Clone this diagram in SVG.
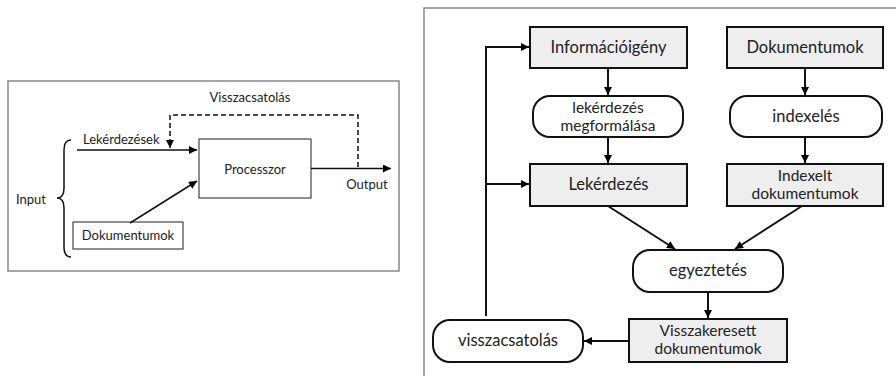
<svg xmlns="http://www.w3.org/2000/svg" width="896" height="376" viewBox="0 0 896 376">
<defs>
<marker id="ah" viewBox="0 0 10 10" refX="10" refY="5" markerWidth="10" markerHeight="8" markerUnits="userSpaceOnUse" orient="auto"><path d="M0,0 L10,5 L0,10 z" fill="#000"/></marker>
<marker id="ah2" viewBox="0 0 10 10" refX="10" refY="5" markerWidth="12" markerHeight="8" markerUnits="userSpaceOnUse" orient="auto"><path d="M0,0 L10,5 L0,10 z" fill="#000"/></marker>
<style>
text{font-family:Lato,"Open Sans","Liberation Sans",sans-serif;fill:#222;text-anchor:middle}
.s{font-size:13px}
.m{font-size:16.5px}
.t{font-size:15.5px}
.frame{fill:#fff;stroke:#888;stroke-width:1.5}
.lb{fill:#fff;stroke:#444;stroke-width:1.2}
.bx{fill:#eeeeee;stroke:#111;stroke-width:2}
.rd{fill:#fff;stroke:#111;stroke-width:2}
.ln{fill:none;stroke:#111;stroke-width:1.5}
.rl{fill:none;stroke:#111;stroke-width:2}
</style>
</defs>
<rect width="896" height="376" fill="#fff"/>
<g id="left-panel">
<rect class="frame" x="8" y="81" width="391" height="190"/>
<g id="processzor"><rect class="lb" x="199" y="139" width="112" height="59"/><text class="s" x="255" y="174">Processzor</text></g>
<g id="dokumentumok-l"><rect class="lb" x="73" y="222" width="110" height="27"/><text class="s" x="128" y="240">Dokumentumok</text></g>
<g id="labels-l">
<text class="s" x="250" y="102">Visszacsatolás</text>
<text class="s" x="83" y="144" style="text-anchor:start">Lekérdezések</text>
<text class="s" x="367" y="189">Output</text>
<text class="s" x="16" y="204" style="text-anchor:start">Input</text>
</g>
<g id="connectors-l">
<path class="ln" d="M77,150 H197" marker-end="url(#ah)"/>
<path class="ln" d="M130,223 L197,181" marker-end="url(#ah)"/>
<path class="ln" d="M311,168.5 H391" marker-end="url(#ah)"/>
<path class="ln" d="M358,167 V115 H170 V148" stroke-dasharray="5,3" marker-end="url(#ah)"/>
<path class="ln" d="M71,140 Q64,140 64,150 V188 Q64,198 57,198 Q64,198 64,208 V247 Q64,257 71,257"/>
</g>
</g>
<g id="right-panel">
<rect class="frame" x="424" y="8" width="480" height="380"/>
<g id="informacioigeny"><rect class="bx" x="530" y="27" width="157" height="41"/><text class="m" x="608.5" y="53">Információigény</text></g>
<g id="dokumentumok-r"><rect class="bx" x="727" y="27" width="156" height="41"/><text class="m" x="805" y="53">Dokumentumok</text></g>
<g id="megformalas"><rect class="rd" x="533" y="96" width="150" height="41" rx="17"/><text class="t" x="608" y="112.5">lekérdezés</text><text class="t" x="608" y="131.2">megformálása</text></g>
<g id="indexeles"><rect class="rd" x="730" y="96" width="152" height="41" rx="17"/><text class="m" x="806" y="122">indexelés</text></g>
<g id="lekerdezes"><rect class="bx" x="530" y="164" width="157" height="42" rx="0"/><text class="m" x="608.5" y="190">Lekérdezés</text></g>
<g id="indexelt"><rect class="bx" x="727" y="164" width="156" height="42"/><text class="t" x="805" y="180.5">Indexelt</text><text class="t" x="805" y="199.2">dokumentumok</text></g>
<g id="egyeztetes"><rect class="rd" x="633" y="250" width="150" height="42" rx="17"/><text class="m" x="708" y="276">egyeztetés</text></g>
<g id="visszakeresett"><rect class="bx" x="629" y="319" width="158" height="43"/><text class="t" x="708" y="335.5">Visszakeresett</text><text class="t" x="708" y="354.2">dokumentumok</text></g>
<g id="visszacsatolas"><rect class="rd" x="433" y="320" width="150" height="42" rx="17"/><text class="m" x="508" y="346">visszacsatolás</text></g>
<g id="connectors-r">
<path class="rl" d="M608,68 V95" marker-end="url(#ah2)"/>
<path class="rl" d="M805,68 V95" marker-end="url(#ah2)"/>
<path class="rl" d="M608,137 V163" marker-end="url(#ah2)"/>
<path class="rl" d="M805,137 V163" marker-end="url(#ah2)"/>
<path class="rl" d="M608,206 L675,249" marker-end="url(#ah2)"/>
<path class="rl" d="M802,206 L735,249" marker-end="url(#ah2)"/>
<path class="rl" d="M708,292 V318" marker-end="url(#ah2)"/>
<path class="rl" d="M629,341 H584" marker-end="url(#ah2)"/>
<path class="rl" d="M486,316 V47 H529" marker-end="url(#ah2)"/>
<path class="rl" d="M486,184 H529" marker-end="url(#ah2)"/>
</g>
</g>
</svg>
